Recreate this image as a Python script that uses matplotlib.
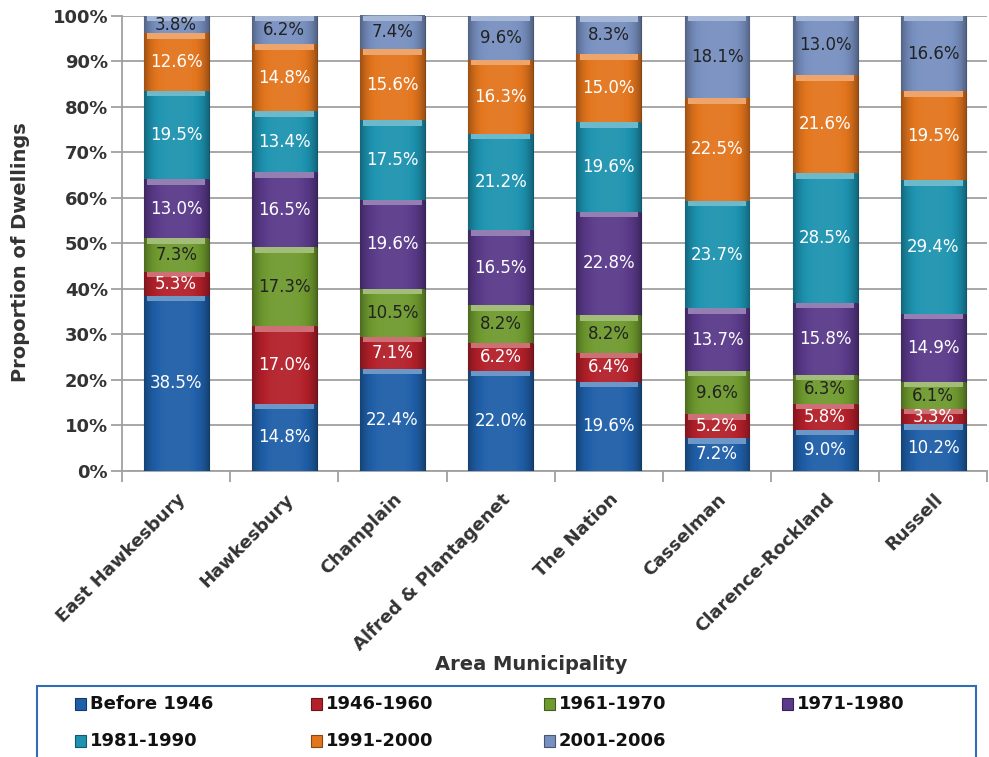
import numpy as np
import matplotlib
matplotlib.use("Agg")
import matplotlib.pyplot as plt
from matplotlib.patches import Rectangle
from matplotlib.colors import to_rgb

# data
municipalities = ["East Hawkesbury", "Hawkesbury", "Champlain", "Alfred & Plantagenet",
                  "The Nation", "Casselman", "Clarence-Rockland", "Russell"]
periods = ["Before 1946", "1946-1960", "1961-1970", "1971-1980",
           "1981-1990", "1991-2000", "2001-2006"]
before_1946 = [38.5, 14.8, 22.4, 22.0, 19.6, 7.2, 9.0, 10.2]
p1946_1960 = [5.3, 17.0, 7.1, 6.2, 6.4, 5.2, 5.8, 3.3]
p1961_1970 = [7.3, 17.3, 10.5, 8.2, 8.2, 9.6, 6.3, 6.1]
p1971_1980 = [13.0, 16.5, 19.6, 16.5, 22.8, 13.7, 15.8, 14.9]
p1981_1990 = [19.5, 13.4, 17.5, 21.2, 19.6, 23.7, 28.5, 29.4]
p1991_2000 = [12.6, 14.8, 15.6, 16.3, 15.0, 22.5, 21.6, 19.5]
p2001_2006 = [3.8, 6.2, 7.4, 9.6, 8.3, 18.1, 13.0, 16.6]

series = [before_1946, p1946_1960, p1961_1970, p1971_1980,
          p1981_1990, p1991_2000, p2001_2006]
colors = ["#1f5fa8", "#b3202a", "#6f9a2f", "#5a3a8a", "#1d93b0", "#e3751d", "#7890c0"]
text_colors = ["white", "white", "#222222", "white", "white", "white", "#222222"]

plt.rcParams["font.family"] = "DejaVu Sans"
dark = "#333333"

fig = plt.figure(figsize=(9.89, 7.57), dpi=100)
ax = fig.add_axes([0.1234, 0.378, 0.875, 0.601])

x = np.arange(len(municipalities))
width = 0.6
bottom = np.zeros(len(municipalities))


def shade(c, f):
    r, g, b = to_rgb(c)
    if f < 1:
        return (r * f, g * f, b * f)
    return (r + (1 - r) * (f - 1), g + (1 - g) * (f - 1), b + (1 - b) * (f - 1))


for vals, col, tcol in zip(series, colors, text_colors):
    vals = np.array(vals)
    bars = ax.bar(x, vals, width, bottom=bottom, color=col,
                  edgecolor=shade(col, 0.6), linewidth=0.8, zorder=3)
    # horizontal gradient to mimic the bevelled look
    grad = np.linspace(-1, 1, 60)
    fac = 1.05 - 0.35 * grad ** 4
    img = np.array([[shade(col, f) for f in fac]])
    for b, v, b0 in zip(bars, vals, bottom):
        im = ax.imshow(img, extent=(b.get_x(), b.get_x() + width, b0, b0 + v),
                       aspect="auto", zorder=3.1, interpolation="bicubic")
        im.set_clip_path(b)
        # light strip on top of each segment
        ax.bar(b.get_x() + width / 2, min(1.2, v * 0.3), width * 0.9,
               bottom=b0 + v - min(1.2, v * 0.3), color=shade(col, 1.35),
               linewidth=0, zorder=3.2)
        ax.text(b.get_x() + width / 2, b0 + v / 2, f"{v:.1f}%", ha="center",
                va="center", color=tcol, fontsize=12, zorder=5)
    bottom = bottom + vals

ax.set_xlim(-0.5, len(municipalities) - 0.5)
ax.set_ylim(0, 100)
ax.set_yticks(np.arange(0, 101, 10))
ax.set_yticklabels([f"{v}%" for v in range(0, 101, 10)], fontsize=13,
                   fontweight="bold", color=dark)
ax.grid(axis="y", color="#a0a0a0", linewidth=1.3, zorder=0)
ax.tick_params(axis="y", length=8, width=1.3, color="#a0a0a0", pad=2)

ax.set_xticks(x)
ax.set_xticklabels(municipalities, rotation=45, ha="right", rotation_mode="anchor",
                   fontsize=13, fontweight="bold", color=dark)
ax.tick_params(axis="x", which="major", length=0, pad=14)
ax.set_xticks(np.arange(-0.5, len(municipalities)), minor=True)
ax.tick_params(axis="x", which="minor", length=8, width=1.3, color="#a0a0a0")

for s in ["top", "right"]:
    ax.spines[s].set_visible(False)
for s in ["left", "bottom"]:
    ax.spines[s].set_color("#a0a0a0")
    ax.spines[s].set_linewidth(1.3)

ax.set_ylabel("Proportion of Dwellings", fontsize=14, fontweight="bold", color=dark)
ax.yaxis.set_label_coords(-0.106, 0.48)
ax.set_xlabel("Area Municipality", fontsize=14, fontweight="bold", color=dark)
ax.xaxis.set_label_coords(0.473, -0.404)

# legend box
fig.add_artist(Rectangle((37 / 989, -0.02), 939 / 989, 0.02 + 1 - 686 / 757,
                         transform=fig.transFigure, facecolor="white",
                         edgecolor="#2f6eb5", linewidth=1.5))
col_x = [80, 316, 549, 787]
row_y = [704, 741]
for i, (name, col) in enumerate(zip(periods, colors)):
    px = col_x[i % 4] / 989
    py = 1 - row_y[i // 4] / 757
    fig.add_artist(Rectangle((px - 5 / 989, py - 6 / 757), 11 / 989, 12 / 757,
                             transform=fig.transFigure, facecolor=col,
                             edgecolor=shade(col, 0.6), linewidth=0.8))
    fig.text(px + 10 / 989, py, name, ha="left", va="center", fontsize=13,
             fontweight="bold", color="#111111")

fig.savefig("out.png", dpi=100)
